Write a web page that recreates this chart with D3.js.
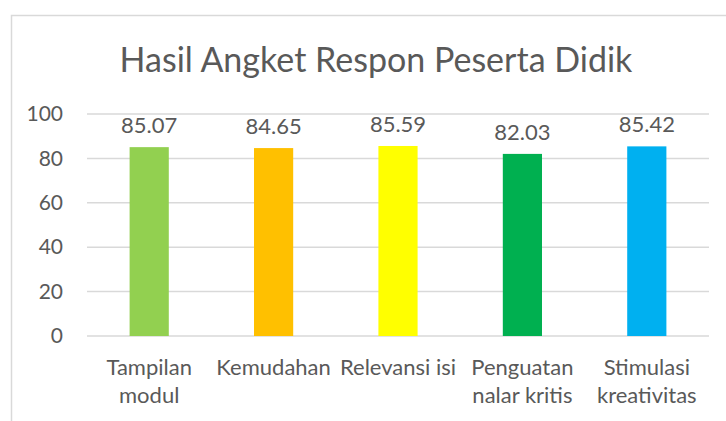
<!DOCTYPE html>
<html>
<head>
<meta charset="utf-8">
<script src="https://cdn.jsdelivr.net/npm/d3@7"></script>
<style>
  body { margin: 0; background: #fff; }
  text { font-family: Lato, "Open Sans", sans-serif; fill: #595959; }
</style>
</head>
<body>
<svg id="chart" width="726" height="421"></svg>
<script>
var categories = ["Tampilan modul", "Kemudahan", "Relevansi isi", "Penguatan nalar kritis", "Stimulasi kreativitas"];
var categoryLines = [["Tampilan", "modul"], ["Kemudahan"], ["Relevansi isi"], ["Penguatan", "nalar kritis"], ["Stimulasi", "kreativitas"]];
var values = [85.07, 84.65, 85.59, 82.03, 85.42];
var colors = ["#92d050", "#ffc000", "#ffff00", "#00b050", "#00b0f0"];
var yTicks = [0, 20, 40, 60, 80, 100];

var svg = d3.select("#chart"),
    margin = {top: 114, right: 17, bottom: 85, left: 87},
    width = +svg.attr("width") - margin.left - margin.right,
    height = +svg.attr("height") - margin.top - margin.bottom;

// chart area frame (top and left edges visible)
svg.append("path")
    .attr("d", "M11.5,421 V15.5 H726")
    .attr("fill", "none")
    .attr("stroke", "#d9d9d9")
    .attr("stroke-width", 1.5);

svg.append("text")
    .attr("x", 376)
    .attr("y", 72)
    .attr("text-anchor", "middle")
    .style("font-size", "34px")
    .text("Hasil Angket Respon Peserta Didik");

var g = svg.append("g").attr("transform", "translate(" + margin.left + "," + margin.top + ")");

var x = d3.scaleBand()
    .domain(categories)
    .range([0, width])
    .padding(0);

var y = d3.scaleLinear()
    .domain([0, 100])
    .range([height, 0]);

var barW = x.bandwidth() * 0.315;

g.selectAll(".grid")
  .data(yTicks)
  .enter().append("line")
    .attr("class", "grid")
    .attr("x1", 0)
    .attr("x2", width)
    .attr("y1", function(d) { return y(d); })
    .attr("y2", function(d) { return y(d); })
    .attr("stroke", "#d9d9d9")
    .attr("stroke-width", 1.5);

var yAxis = g.append("g")
    .call(d3.axisLeft(y).tickValues(yTicks).tickSize(0).tickPadding(24));
yAxis.select(".domain").remove();
yAxis.selectAll("text")
    .attr("fill", "#595959")
    .style("font-size", "21px")
    .style("font-family", "Lato, sans-serif");

g.selectAll(".bar")
  .data(values)
  .enter().append("rect")
    .attr("class", "bar")
    .attr("x", function(d, i) { return x(categories[i]) + (x.bandwidth() - barW) / 2; })
    .attr("y", function(d) { return y(d); })
    .attr("width", barW)
    .attr("height", function(d) { return height - y(d); })
    .attr("fill", function(d, i) { return colors[i]; });

g.selectAll(".value")
  .data(values)
  .enter().append("text")
    .attr("class", "value")
    .attr("x", function(d, i) { return x(categories[i]) + x.bandwidth() / 2; })
    .attr("y", function(d) { return y(d) - 14; })
    .attr("text-anchor", "middle")
    .style("font-size", "22px")
    .text(function(d) { return d.toFixed(2); });

var cat = g.selectAll(".cat")
  .data(categoryLines)
  .enter().append("text")
    .attr("class", "cat")
    .attr("text-anchor", "middle")
    .style("font-size", "22px")
    .attr("transform", function(d, i) { return "translate(" + (x(categories[i]) + x.bandwidth() / 2) + "," + (height + 39) + ")"; });

cat.selectAll("tspan")
  .data(function(d) { return d; })
  .enter().append("tspan")
    .attr("x", 0)
    .attr("y", function(d, i) { return i * 28; })
    .text(function(d) { return d; });
</script>
</body>
</html>
